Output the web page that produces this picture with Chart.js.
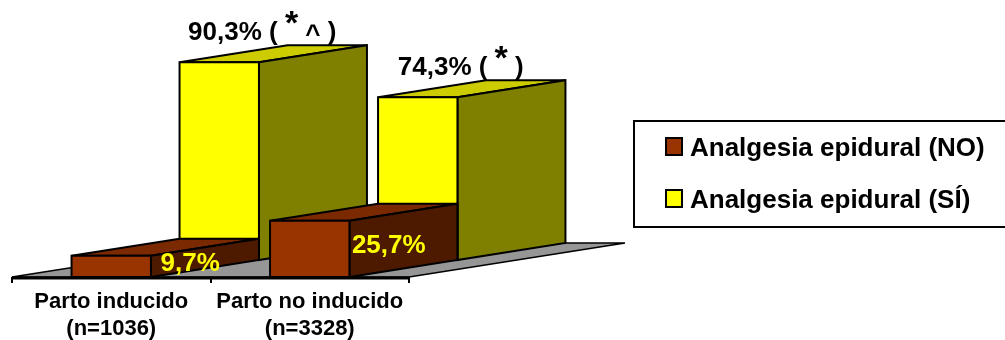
<!DOCTYPE html>
<html>
<head>
<meta charset="utf-8">
<script src="https://cdn.jsdelivr.net/npm/chart.js@4.4.1/dist/chart.umd.min.js"></script>
<style>
    body { margin: 0; background: #fff; }
    #wrap { width: 1005px; height: 340px; }
</style>
</head>
<body>
<div id="wrap"><canvas id="myChart"></canvas></div>
<script>
const categories = [['Parto inducido', '(n=1036)'], ['Parto no inducido', '(n=3328)']];
const seriesNames = ['Analgesia epidural (NO)', 'Analgesia epidural (SÍ)'];
const epiduralNo = [9.7, 25.7];
const epiduralSi = [90.3, 74.3];
const significance = [['*', '^'], ['*']];   // marcas de significación sobre la serie SÍ

const FONT = "'Liberation Sans', Arial, sans-serif";
const DEPTH_X = 108;   // desplazamiento de profundidad de una fila
const DEPTH_Y = -17;

// caras: frontal, superior, lateral
const brownFaces = ['#993300', '#7a2900', '#4d1a00'];
const yellowFaces = ['#ffff00', '#cccc00', '#808000'];

function pct(v) {
    return v.toFixed(1).replace('.', ',') + '%';
}

function poly(ctx, pts, fill) {
    ctx.beginPath();
    ctx.moveTo(pts[0][0], pts[0][1]);
    for (let i = 1; i < pts.length; i++) ctx.lineTo(pts[i][0], pts[i][1]);
    ctx.closePath();
    ctx.fillStyle = fill;
    ctx.fill();
    ctx.stroke();
}

function drawBox(ctx, x0, x1, top, base, faces) {
    ctx.lineWidth = 2;
    ctx.strokeStyle = '#000';
    ctx.lineJoin = 'miter';
    poly(ctx, [[x0, top], [x0 + DEPTH_X, top + DEPTH_Y], [x1 + DEPTH_X, top + DEPTH_Y], [x1, top]], faces[1]);
    poly(ctx, [[x1, top], [x1 + DEPTH_X, top + DEPTH_Y], [x1 + DEPTH_X, base + DEPTH_Y], [x1, base]], faces[2]);
    poly(ctx, [[x0, top], [x1, top], [x1, base], [x0, base]], faces[0]);
}

// etiqueta "90,3% ( * ^)" con las marcas más grandes y elevadas
function drawMarkedLabel(ctx, cx, baseline, value, marks) {
    const normal = 'bold 26px ' + FONT;
    const big = 'bold 34px ' + FONT;
    const pieces = [{t: pct(value) + ' ( ', f: normal, dy: 0}];
    marks.forEach(m => {
        pieces.push({t: m, f: m === '*' ? big : normal, dy: m === '*' ? -6 : 3});
        pieces.push({t: ' ', f: normal, dy: 0});
    });
    pieces.push({t: ')', f: normal, dy: 0});
    let total = 0;
    pieces.forEach(p => { ctx.font = p.f; p.w = ctx.measureText(p.t).width; total += p.w; });
    let x = cx - total / 2;
    ctx.fillStyle = '#000';
    ctx.textAlign = 'left';
    ctx.textBaseline = 'alphabetic';
    pieces.forEach(p => {
        ctx.font = p.f;
        ctx.fillText(p.t, x, baseline + p.dy);
        x += p.w;
    });
}

const bars3d = {
    id: 'bars3d',
    beforeDatasetsDraw(chart) {
        const ctx = chart.ctx;
        const area = chart.chartArea;
        ctx.save();

        // suelo gris
        ctx.lineWidth = 1.5;
        ctx.strokeStyle = '#000';
        poly(ctx, [[area.left, area.bottom], [area.right, area.bottom],
            [area.right + 2 * DEPTH_X, area.bottom + 2 * DEPTH_Y],
            [area.left + 2 * DEPTH_X, area.bottom + 2 * DEPTH_Y]], '#969696');
        ctx.lineWidth = 3;
        ctx.beginPath();
        ctx.moveTo(area.left, area.bottom + 1);
        ctx.lineTo(area.right, area.bottom + 1);
        ctx.stroke();

        // primero la fila de atrás (SÍ), luego la de delante (NO)
        for (let di = chart.data.datasets.length - 1; di >= 0; di--) {
            const ds = chart.data.datasets[di];
            const meta = chart.getDatasetMeta(di);
            const ox = ds.row * DEPTH_X;
            const oy = ds.row * DEPTH_Y;
            meta.data.forEach(bar => {
                const half = bar.width / 2;
                drawBox(ctx, bar.x - half + ox, bar.x + half + ox, bar.y + oy, bar.base + oy, ds.faces);
            });
        }

        // etiquetas de valor
        const back = chart.getDatasetMeta(1);
        back.data.forEach((bar, i) => {
            drawMarkedLabel(ctx, bar.x + DEPTH_X + 43, bar.y + DEPTH_Y - 22, epiduralSi[i], significance[i]);
        });
        const front = chart.getDatasetMeta(0);
        ctx.font = 'bold 26px ' + FONT;
        ctx.fillStyle = '#ffff00';
        ctx.textAlign = 'center';
        ctx.textBaseline = 'middle';
        front.data.forEach((bar, i) => {
            ctx.fillText(pct(epiduralNo[i]), bar.x + 79, (bar.y + bar.base) / 2 - 3);
        });

        ctx.restore();
        return false;
    }
};

const boxLegend = {
    id: 'boxLegend',
    afterDraw(chart) {
        const ctx = chart.ctx;
        ctx.save();
        ctx.lineWidth = 2;
        ctx.strokeStyle = '#000';
        ctx.fillStyle = '#fff';
        ctx.fillRect(634, 121, 380, 106);
        ctx.strokeRect(634, 121, 380, 106);
        ctx.font = 'bold 26px ' + FONT;
        ctx.textAlign = 'left';
        ctx.textBaseline = 'alphabetic';
        chart.data.datasets.forEach((ds, i) => {
            const y = 138 + i * 52;
            ctx.fillStyle = ds.faces[0];
            ctx.fillRect(666, y, 16, 17);
            ctx.strokeRect(666, y, 16, 17);
            ctx.fillStyle = '#000';
            ctx.fillText(ds.label, 690, y + 18);
        });
        ctx.restore();
    }
};

new Chart(document.getElementById('myChart'), {
    type: 'bar',
    data: {
        labels: categories,
        datasets: [
            {label: seriesNames[0], data: epiduralNo, row: 0, faces: brownFaces},
            {label: seriesNames[1], data: epiduralSi, row: 1, faces: yellowFaces}
        ]
    },
    options: {
        responsive: true,
        maintainAspectRatio: false,
        animation: false,
        layout: {padding: {left: 12, right: 596, top: 58, bottom: 0}},
        datasets: {bar: {grouped: false, categoryPercentage: 1, barPercentage: 0.4}},
        plugins: {legend: {display: false}, tooltip: {enabled: false}},
        scales: {
            y: {display: false, min: 0, max: 100},
            x: {
                afterFit: scale => { scale.height = 63; },
                border: {display: false},
                grid: {drawOnChartArea: false, drawTicks: true, tickLength: 6, color: '#000', lineWidth: 2},
                ticks: {
                    color: '#000',
                    padding: 5,
                    maxRotation: 0,
                    font: {family: FONT, size: 22, weight: 'bold', lineHeight: 1.25}
                }
            }
        }
    },
    plugins: [bars3d, boxLegend]
});
</script>
</body>
</html>
